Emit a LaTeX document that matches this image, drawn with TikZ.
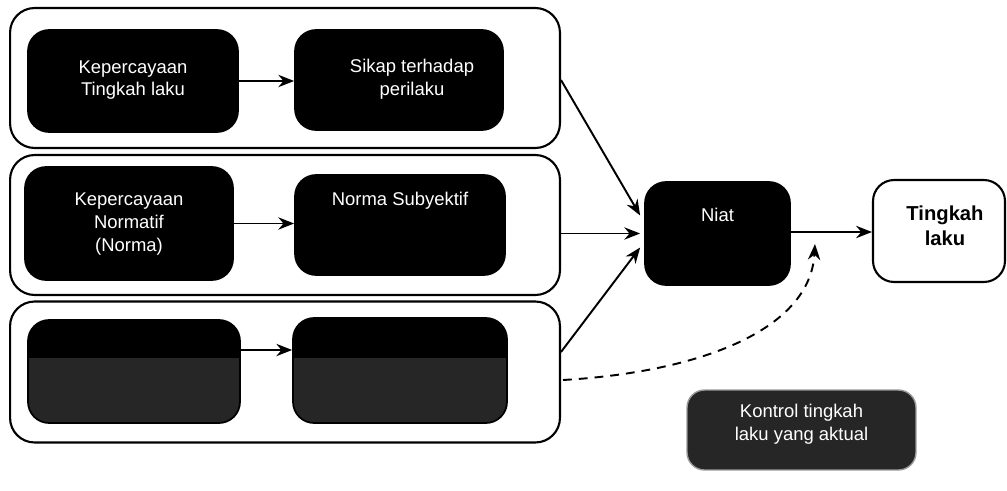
\documentclass[tikz,border=0pt]{standalone}
\usepackage{fontspec}
\setmainfont{Liberation Sans}
\usetikzlibrary{arrows.meta,calc}
\begin{document}
\begin{tikzpicture}[x=0.02cm,y=-0.02cm,
  outerbox/.style={draw=black,line width=1.2pt,rounded corners=14pt,fill=white,inner sep=0pt},
  darkbox/.style={draw=black,line width=1pt,rounded corners=12pt,fill=black,inner sep=0pt},
  whitebox/.style={draw=black,line width=1.2pt,rounded corners=12pt,fill=white,inner sep=0pt},
  wtext/.style={text=white,align=center,font=\fontsize{10.5}{13}\selectfont,inner sep=0pt},
  btext/.style={text=black,align=center,font=\fontsize{11.5}{14}\selectfont\bfseries,inner sep=0pt},
  arr/.style={-{Stealth[length=9pt,width=7pt]},line width=1.1pt},
  dasharr/.style={-{Stealth[length=9pt,width=7pt]},line width=1.1pt,dash pattern=on 5pt off 4pt}]
\useasboundingbox (0,0) rectangle (1007,490);
% outer panels
\node[outerbox,minimum width=11cm,minimum height=2.8cm] (o1) at (285,78) {};
\node[outerbox,minimum width=11cm,minimum height=2.8cm] (o2) at (285,225) {};
\node[outerbox,minimum width=11cm,minimum height=2.82cm] (o3) at (285,372) {};
% row 1
\node[darkbox,minimum width=4.2cm,minimum height=2.04cm] (a1) at (133,81) {};
\node[wtext] (ta1) at (133,80) {Kepercayaan\\Tingkah laku};
\node[darkbox,minimum width=4.16cm,minimum height=2.0cm] (b1) at (399,80) {};
\node[wtext] (tb1) at (412,79) {Sikap terhadap\\perilaku};
% row 2
\node[darkbox,minimum width=4.16cm,minimum height=2.26cm] (a2) at (129,223.5) {};
\node[wtext] (ta2) at (129,224) {Kepercayaan\\Normatif\\(Norma)};
\node[darkbox,minimum width=4.2cm,minimum height=2.0cm] (b2) at (400,225) {};
\node[wtext] (tb2) at (400,201) {Norma Subyektif};
% row 3
\begin{scope}
\clip[rounded corners=12pt] (28,320) rectangle (240,423);
\fill[black!85] (28,320) rectangle (240,423);
\fill[black] (28,320) rectangle (240,358);
\end{scope}
\node[draw=black,line width=1pt,rounded corners=12pt,inner sep=0pt,minimum width=4.24cm,minimum height=2.06cm] (a3) at (134,371.5) {};
\begin{scope}
\clip[rounded corners=12pt] (293,318) rectangle (507,423);
\fill[black!85] (293,318) rectangle (507,423);
\fill[black] (293,318) rectangle (507,358);
\end{scope}
\node[draw=black,line width=1pt,rounded corners=12pt,inner sep=0pt,minimum width=4.28cm,minimum height=2.1cm] (b3) at (400,370.5) {};
% right side
\node[darkbox,minimum width=2.9cm,minimum height=2.06cm] (niat) at (717.5,233.5) {};
\node[wtext] (tniat) at (717.5,215) {Niat};
\node[whitebox,minimum width=2.64cm,minimum height=2.04cm] (tl) at (939,231) {};
\node[btext] (ttl) at (945,226) {Tingkah\\laku};
\node[draw=black!40,line width=0.8pt,fill=black!85,rounded corners=10pt,inner sep=0pt,minimum width=4.58cm,minimum height=1.6cm] (akt) at (801.5,430) {};
\node[wtext] (takt) at (801.5,424) {Kontrol tingkah\\laku yang aktual};
% inner arrows
\draw[arr] (a1.east) -- (b1.west |- a1.east);
\draw[arr] (a2.east) -- (b2.west |- a2.east);
\draw[arr] (a3.east |- 0,350) -- (b3.west |- 0,350);
% arrows to Niat
\draw[arr] ($(o1.east)+(0,2)$) -- ($(niat.west)+(-4,-18)$);
\draw[arr] (o2.east |- niat.west) -- ($(niat.west)+(-4,0)$);
\draw[arr] ($(o3.east)+(0,-20)$) -- ($(niat.west)+(-4,14)$);
\draw[arr,line width=1.4pt] (niat.east |- 0,232) -- (tl.west |- 0,232);
\coordinate (dend) at (815,244);
\draw[dasharr] ($(o3.east)+(2,8)$) .. controls (700,372) and (810,330) .. (dend);
\end{tikzpicture}
\end{document}
